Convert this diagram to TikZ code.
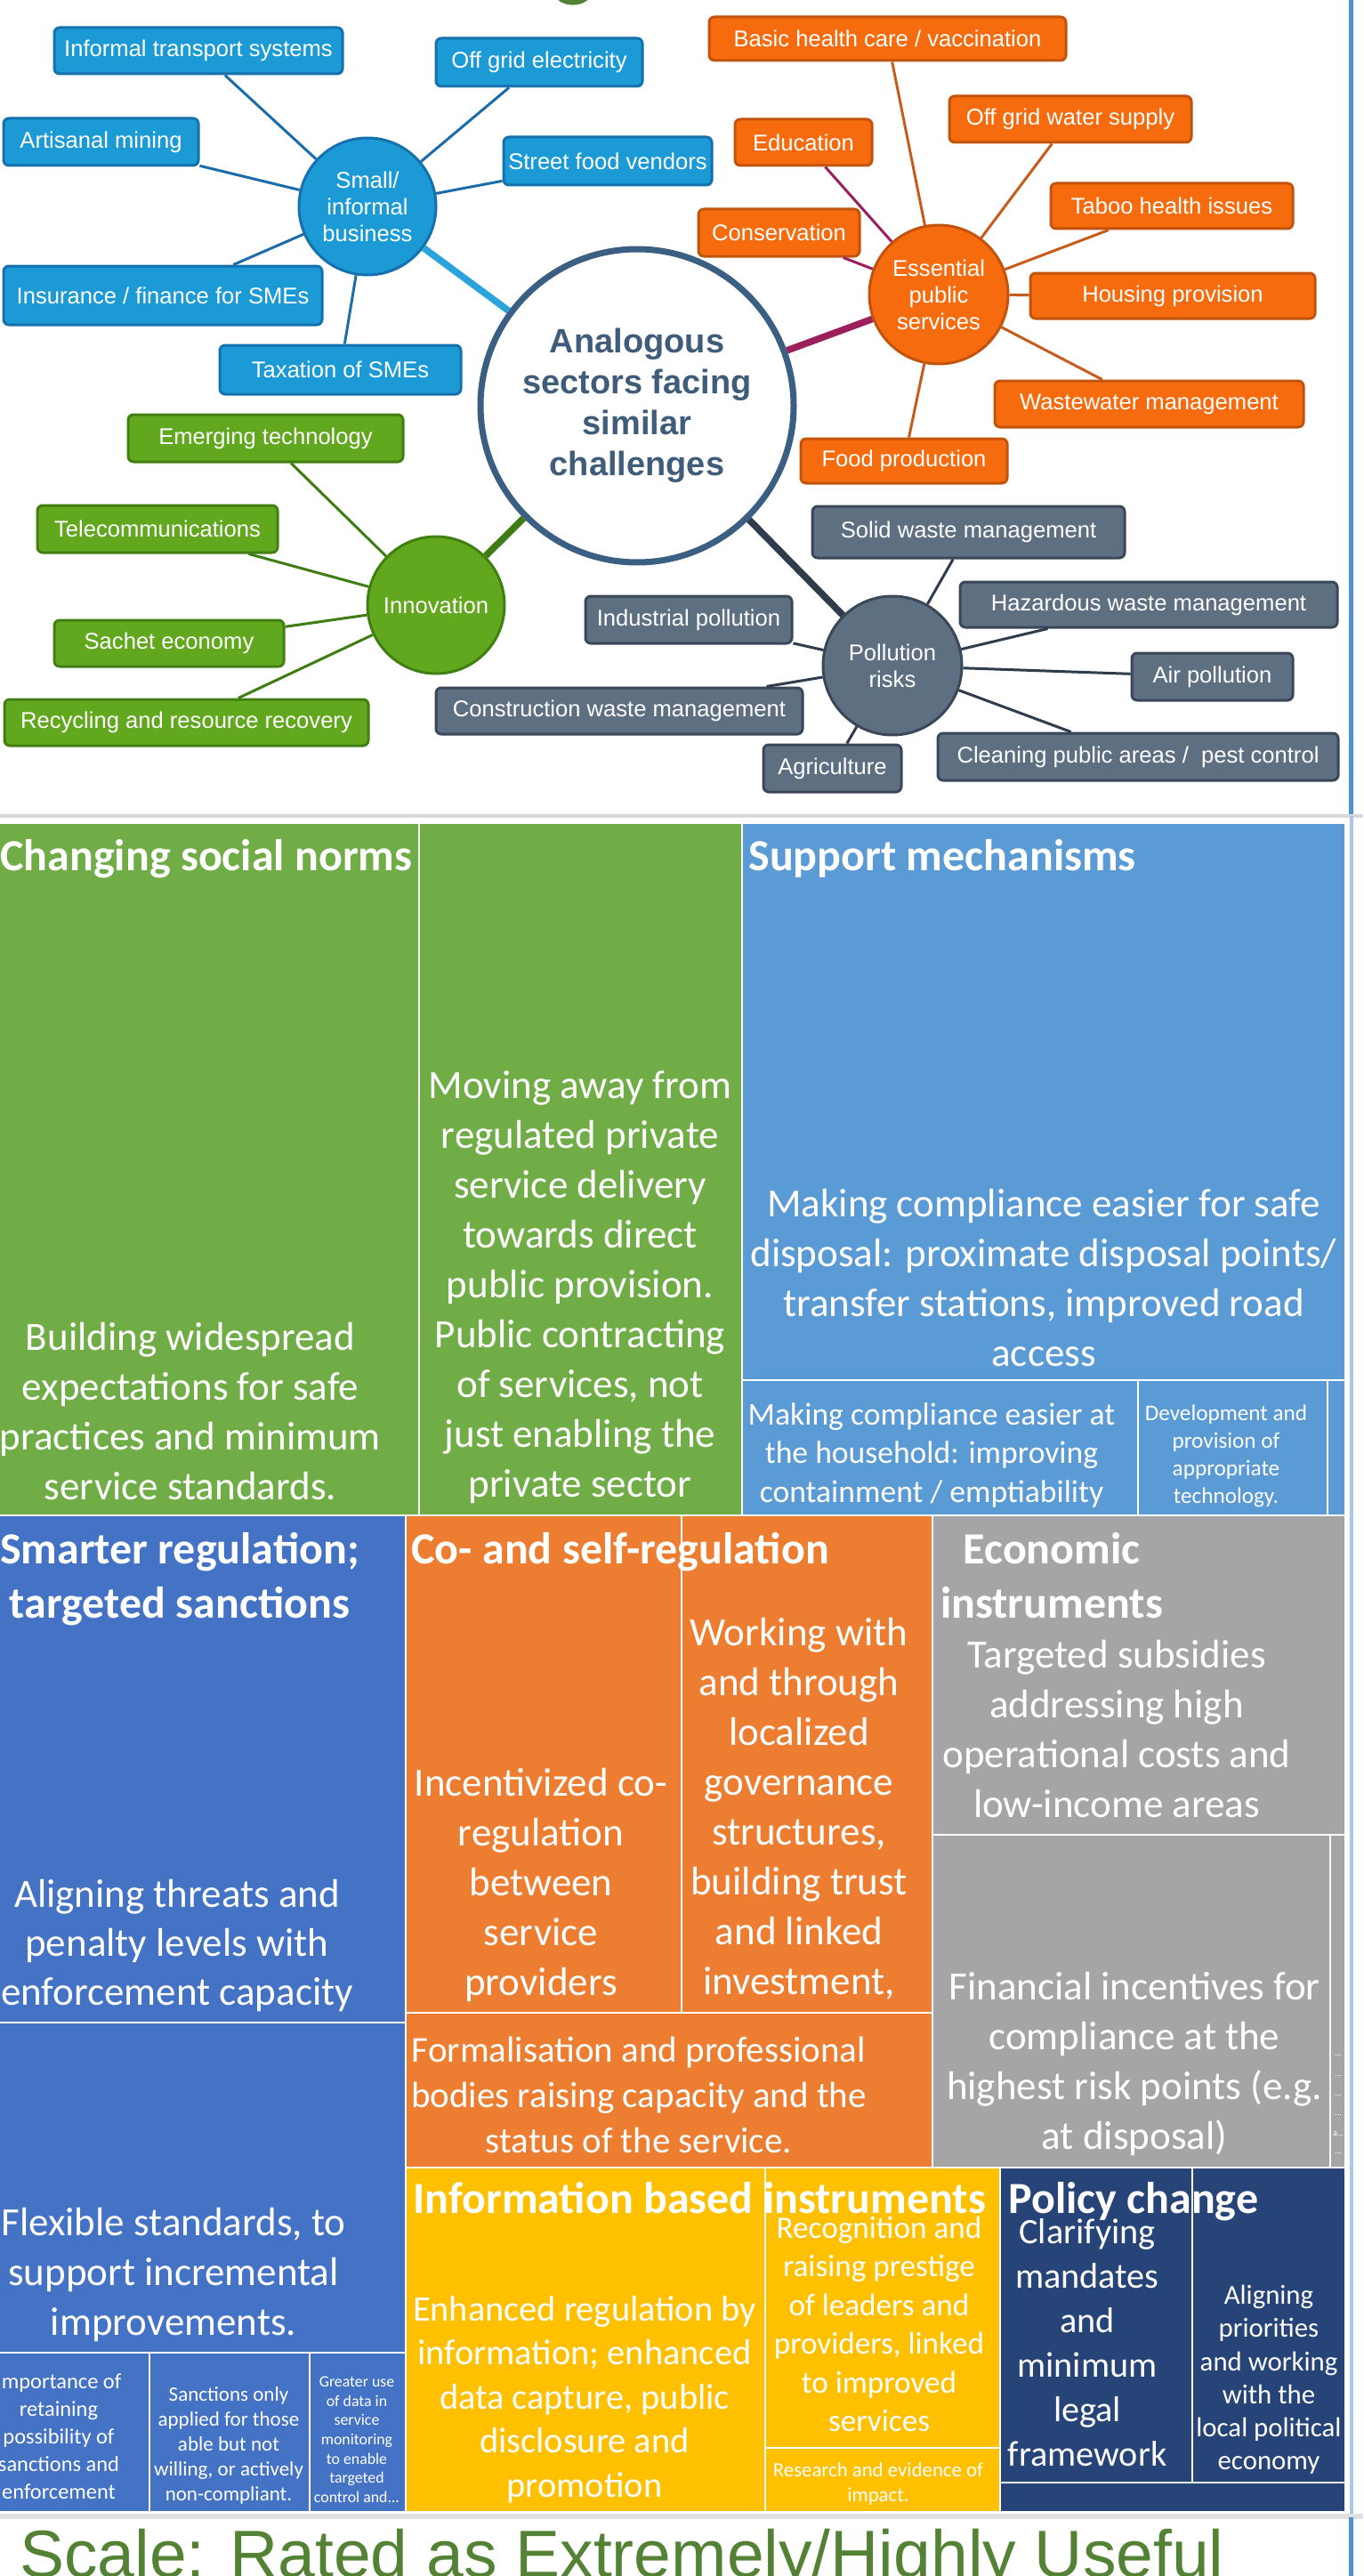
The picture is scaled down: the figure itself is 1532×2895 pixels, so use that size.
\documentclass[tikz,border=0pt]{standalone}
\usepackage{fontspec}
\setmainfont{Liberation Sans}
\newfontfamily\calib{Carlito}
\newcommand\fs[2]{\fontsize{#1}{#2}\selectfont}
\newcommand\topstrut{\rule{0pt}{1em}}

% mind map colours
\definecolor{bfill}{HTML}{1C9AD6}\definecolor{bedge}{HTML}{1570AE}
\definecolor{bline}{HTML}{1A6DAA}\definecolor{bthick}{HTML}{2BA3DC}
\definecolor{ofill}{HTML}{F56B0E}\definecolor{oedge}{HTML}{C2530C}
\definecolor{oline}{HTML}{C65B1C}\definecolor{mline}{HTML}{9C1F5E}
\definecolor{gfill}{HTML}{61A81E}\definecolor{gedge}{HTML}{427F13}
\definecolor{gline}{HTML}{3E7C14}
\definecolor{pfill}{HTML}{5F6F82}\definecolor{pedge}{HTML}{3A4759}
\definecolor{pline}{HTML}{2F3C4C}
\definecolor{cedge}{HTML}{3B5F82}\definecolor{ctext}{HTML}{3F5C7B}
% treemap colours
\definecolor{tgreen}{HTML}{70AD47}\definecolor{tsky}{HTML}{5B9BD5}
\definecolor{tblue}{HTML}{4472C4}\definecolor{torange}{HTML}{ED7D31}
\definecolor{tgray}{HTML}{A5A5A5}\definecolor{tyellow}{HTML}{FFC000}
\definecolor{tnavy}{HTML}{264478}\definecolor{scalegreen}{HTML}{548235}
\definecolor{edgeblue}{HTML}{4F8FD8}\definecolor{edgelight}{HTML}{A9C8EC}

\tikzset{
  mm/.style={rectangle, rounded corners=3pt, line width=1.5pt, text=white,
    inner sep=0pt, font=\fs{12.8}{15}, align=center},
  bluebox/.style={mm, fill=bfill, draw=bedge},
  orangebox/.style={mm, fill=ofill, draw=oedge},
  greenbox/.style={mm, fill=gfill, draw=gedge},
  greybox/.style={mm, fill=pfill, draw=pedge},
  hub/.style={circle, line width=1.5pt, text=white, inner sep=0pt,
    font=\fs{12.8}{15}, align=center},
  spoke/.style={line width=1.5pt},
  trunk/.style={line width=3.8pt},
  tmcellstyle/.style={draw=white, line width=1.25pt},
  tmtext/.style={text=white, align=center, inner sep=0pt, anchor=north},
  tmtitle/.style={text=white, inner sep=0pt, anchor=base west,
    font=\calib\bfseries\fs{25}{30.5}},
  dots/.style={text=white, inner sep=0pt, font=\calib\fs{5}{6}},
}

% rounded box given by its corners (pixel units)
\newcommand\putbox[7]{%
  \pgfmathsetmacro\bw{(#5-#3)/2}%
  \pgfmathsetmacro\bh{(#6-#4)/2}%
  \node[#1, minimum width=\bw pt, minimum height=\bh pt] (#2) at ({(#3+#5)/2},{(#4+#6)/2}) {#7};}
% treemap cell
\newcommand\tmcell[5]{\filldraw[tmcellstyle, fill=#1] (#2,#3) rectangle (#4,#5);}
% treemap label: name, centre x, first baseline, size, skip, text
\newcommand\tmt[6]{\node[tmtext, font=\calib\fs{#4}{#5}] (#1) at ({#2},{#3-2*#4}) {\topstrut#6};}
\newcommand\tmb[6]{\node[tmtext, font=\calib\bfseries\fs{#4}{#5}] (#1) at ({#2},{#3-2*#4}) {\topstrut#6};}

\begin{document}
\begin{tikzpicture}[x=0.5pt,y=-0.5pt]
\useasboundingbox (0,0) rectangle (1532,2895);
\clip (0,0) rectangle (1532,2895);
\fill[white] (0,0) rectangle (1532,2895);

% tail of a heading letter above the mind map
\draw[scalegreen, line width=3.2pt, line cap=round] (625,-8) .. controls (630,5) and (655,6) .. (661,-6);

% ---------------- mind map ----------------
\node[circle, draw=cedge, line width=3.5pt, fill=white, minimum size=176pt,
  inner sep=0pt, text=ctext, font=\bfseries\fs{19}{23}, align=center]
  (core) at (716,456) {Analogous\\sectors facing\\similar\\challenges};

% small / informal business
\node[hub, fill=bfill, draw=bedge, minimum size=77pt] (cSmall) at (413,232) {Small/\\informal\\business};
\putbox{bluebox}{bInf}{61}{31}{385}{83}{Informal transport systems}
\putbox{bluebox}{bOff}{490}{43}{722}{97}{Off grid electricity}
\putbox{bluebox}{bArt}{4}{133}{223}{186}{Artisanal mining}
\putbox{bluebox}{bStr}{566}{154}{800}{208}{Street food vendors}
\putbox{bluebox}{bIns}{4}{299}{362}{365}{Insurance / finance for SMEs}
\putbox{bluebox}{bTax}{247}{388}{518}{443}{Taxation of SMEs}
\foreach \b in {bInf,bOff,bArt,bStr,bIns,bTax} \draw[spoke, bline] (cSmall) -- (\b);
\draw[trunk, bthick] (cSmall) -- (core);

% essential public services
\node[hub, fill=ofill, draw=oedge, minimum size=78pt] (cEss) at (1055,331) {Essential\\public\\services};
\putbox{orangebox}{oBas}{797}{19}{1198}{68}{Basic health care / vaccination}
\putbox{orangebox}{oWat}{1067}{108}{1339}{160}{Off grid water supply}
\putbox{orangebox}{oEdu}{826}{134}{980}{186}{Education}
\putbox{orangebox}{oTab}{1181}{206}{1453}{257}{Taboo health issues}
\putbox{orangebox}{oCon}{785}{235}{966}{288}{Conservation}
\putbox{orangebox}{oHou}{1158}{307}{1478}{358}{Housing provision}
\putbox{orangebox}{oWas}{1118}{428}{1465}{480}{Wastewater management}
\putbox{orangebox}{oFoo}{900}{493}{1132}{543}{Food production}
\foreach \b in {oBas,oWat,oTab,oHou,oWas,oFoo} \draw[spoke, oline] (cEss) -- (\b);
\foreach \b in {oEdu,oCon} \draw[spoke, mline] (cEss) -- (\b);
\draw[trunk, mline] (cEss) -- (core);

% innovation
\node[hub, fill=gfill, draw=gedge, minimum size=77pt] (cInn) at (490,680) {Innovation};
\putbox{greenbox}{gEme}{144}{466}{453}{519}{Emerging technology}
\putbox{greenbox}{gTel}{42}{568}{312}{621}{Telecommunications}
\putbox{greenbox}{gSac}{61}{697}{319}{749}{Sachet economy}
\putbox{greenbox}{gRec}{5}{786}{414}{838}{Recycling and resource recovery}
\foreach \b in {gEme,gTel,gSac,gRec} \draw[spoke, gline] (cInn) -- (\b);
\draw[trunk, gline] (cInn) -- (core);

% pollution risks
\node[hub, fill=pfill, draw=pedge, minimum size=78pt] (cPol) at (1003,748) {Pollution\\risks};
\putbox{greybox}{pSol}{913}{569}{1264}{627}{Solid waste management}
\putbox{greybox}{pHaz}{1079}{654}{1503}{705}{Hazardous waste management}
\putbox{greybox}{pInd}{658}{670}{890}{723}{Industrial pollution}
\putbox{greybox}{pCon}{490}{773}{902}{825}{Construction waste management}
\putbox{greybox}{pAir}{1272}{734}{1453}{787}{Air pollution}
\putbox{greybox}{pAgr}{858}{837}{1013}{890}{Agriculture}
\putbox{greybox}{pCle}{1054}{824}{1504}{877}{Cleaning public areas /\ \ pest control}
\foreach \b in {pSol,pHaz,pInd,pCon,pAir,pAgr,pCle} \draw[spoke, pline] (cPol) -- (\b);
\draw[trunk, pline] (cPol) -- (core);

% frame lines
\fill[edgeblue] (1516,0) rectangle (1521,917);
\draw[line width=2pt, black!15] (0,917) -- (1532,917);
\draw[line width=2pt, edgelight] (1519,917) -- (1519,2828);
\draw[line width=3pt, black!12] (0,2828) -- (1532,2828);
\fill[edgeblue] (1516,2829) rectangle (1521,2895);

% ---------------- treemap ----------------
\tmcell{tgreen}{-5}{925}{471}{1703}
\tmcell{tgreen}{471}{925}{834}{1703}
\tmcell{tsky}{834}{925}{1512}{1551}
\tmcell{tsky}{834}{1551}{1279}{1703}
\tmcell{tsky}{1279}{1551}{1492}{1703}
\tmcell{tsky}{1492}{1551}{1512}{1703}

\tmcell{tblue}{-5}{1703}{456}{2273}
\tmcell{tblue}{-5}{2273}{456}{2644}
\tmcell{tblue}{-5}{2644}{168}{2823}
\tmcell{tblue}{168}{2644}{348}{2823}
\tmcell{tblue}{348}{2644}{456}{2823}
\tmcell{torange}{456}{1703}{766}{2262}
\tmcell{torange}{766}{1703}{1048}{2262}
\tmcell{torange}{456}{2262}{1048}{2436}
\tmcell{tgray}{1048}{1703}{1512}{2062}
\tmcell{tgray}{1048}{2062}{1495}{2436}
\tmcell{tgray}{1495}{2062}{1512}{2436}

\tmcell{tyellow}{456}{2436}{860}{2823}
\tmcell{tyellow}{860}{2436}{1124}{2751}
\tmcell{tyellow}{860}{2751}{1124}{2823}
\tmcell{tnavy}{1124}{2436}{1340}{2790}
\tmcell{tnavy}{1340}{2436}{1512}{2790}
\tmcell{tnavy}{1124}{2790}{1512}{2823}

% category titles
\node[tmtitle] (hNorms) at (0,978) {Changing social norms};
\node[tmtitle] (hSupport) at (841,978) {Support mechanisms};
\tmb{hSmart}{202}{1757}{25}{30.5}{Smarter regulation;\\targeted sanctions}
\node[tmtitle] (hCoreg) at (462,1757) {Co- and self-regulation};
\tmb{hEcon}{1182}{1757}{25}{30.5}{Economic\\instruments}
\node[tmtitle] (hInfo) at (464,2487) {Information based instruments};
\node[tmtitle] (hPolicy) at (1133,2487) {Policy change};

% cell labels
\tmt{tBuild}{214}{1517}{22.5}{28}{Building widespread\\expectations for safe\\practices and minimum\\service standards.}
\tmt{tMove}{652}{1234}{22.5}{28}{Moving away from\\regulated private\\service delivery\\towards direct\\public provision.\\Public contracting\\of services, not\\just enabling the\\private sector}
\tmt{tDisp}{1173}{1367}{22.5}{28}{Making compliance easier for safe\\disposal: proximate disposal points/\\transfer stations, improved road\\access}
\tmt{tHouse}{1047}{1601}{17.8}{21.75}{Making compliance easier at\\the household: improving\\containment / emptiability}
\tmt{tDev}{1378}{1596}{12.6}{15.5}{Development and\\provision of\\appropriate\\technology.}

\tmt{tAlign}{199}{2143}{22.5}{27.5}{Aligning threats and\\penalty levels with\\enforcement capacity}
\tmt{tIncent}{608}{2018}{22.5}{28}{Incentivized co-\\regulation\\between\\service\\providers}
\tmt{tWork}{898}{1849}{22.5}{28}{Working with\\and through\\localized\\governance\\structures,\\building trust\\and linked\\investment,}
\tmt{tFormal}{718}{2317}{20.5}{25.5}{Formalisation and professional\\bodies raising capacity and the\\status of the service.}
\tmt{tSubs}{1255}{1874}{22.5}{28}{Targeted subsidies\\addressing high\\operational costs and\\low-income areas}
\tmt{tFin}{1275}{2247}{22.5}{28}{Financial incentives for\\compliance at the\\highest risk points (e.g.\\at disposal)}
\node[dots] (d1) at (1504,2310) {…};
\node[dots] (d2) at (1504,2333) {…};
\node[dots] (d3) at (1504,2355) {…};
\node[dots] (d4) at (1504,2377) {…};
\node[dots] (d5) at (1504,2398) {a…};
\node[dots] (d6) at (1504,2420) {…};

\tmt{tFlex}{195}{2512}{22.5}{28}{Flexible standards, to\\support incremental\\improvements.}
\tmt{tImp}{66}{2684}{12.2}{15.5}{Importance of\\retaining\\possibility of\\sanctions and\\enforcement}
\tmt{tSanc}{257}{2698}{11.5}{14}{Sanctions only\\applied for those\\able but not\\willing, or actively\\non-compliant.}
\tmt{tData}{401}{2682}{8.9}{10.85}{Greater use\\of data in\\service\\monitoring\\to enable\\targeted\\control and...}

\tmt{tEnh}{657}{2608}{20.2}{24.75}{Enhanced regulation by\\information; enhanced\\data capture, public\\disclosure and\\promotion}
\tmt{tRec}{988}{2515}{17.6}{21.75}{Recognition and\\raising prestige\\of leaders and\\providers, linked\\to improved\\services}
\tmt{tRes}{987}{2783}{11.4}{14}{Research and evidence of\\impact.}
\tmt{tClar}{1222}{2521}{20.1}{25}{Clarifying\\mandates\\and\\minimum\\legal\\framework}
\tmt{tAlPri}{1426}{2589}{15.4}{18.65}{Aligning\\priorities\\and working\\with the\\local political\\economy}

% rating scale caption
\node[anchor=base west, inner sep=0pt, text=scalegreen, font=\fs{37.5}{45}]
  (scale) at (22,2896) {Scale: Rated as Extremely/Highly Useful};
\end{tikzpicture}
\end{document}
